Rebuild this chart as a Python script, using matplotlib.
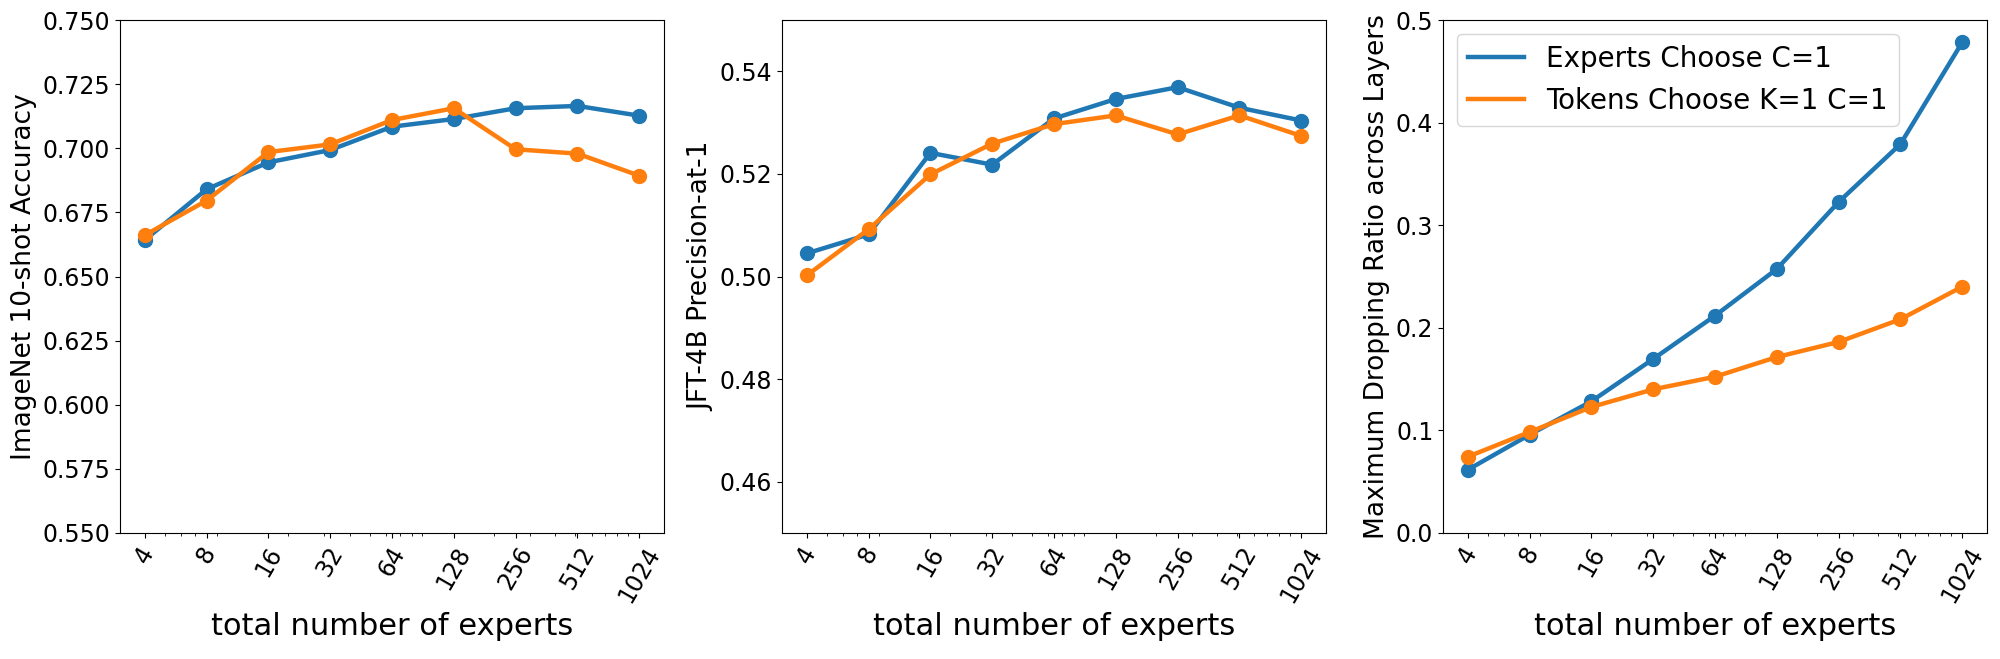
import numpy as np
import matplotlib
matplotlib.use("Agg")
import matplotlib.pyplot as plt

experts = [4, 8, 16, 32, 64, 128, 256, 512, 1024]
expert_labels = [str(e) for e in experts]

# ImageNet 10-shot accuracy
imagenet_ec = [0.6642, 0.6840, 0.6945, 0.6993, 0.7084, 0.7114, 0.7156, 0.7165, 0.7127]
imagenet_tc = [0.6661, 0.6796, 0.6985, 0.7015, 0.7110, 0.7156, 0.6996, 0.6979, 0.6893]

# JFT-4B precision-at-1
jft_ec = [0.5045, 0.5082, 0.5241, 0.5218, 0.5308, 0.5346, 0.5369, 0.5329, 0.5304]
jft_tc = [0.5002, 0.5092, 0.5199, 0.5259, 0.5297, 0.5314, 0.5277, 0.5314, 0.5274]

# maximum dropping ratio across layers
drop_ec = [0.0616, 0.0958, 0.1283, 0.1696, 0.2118, 0.2573, 0.3226, 0.3791, 0.4783]
drop_tc = [0.0743, 0.0984, 0.1228, 0.1400, 0.1523, 0.1715, 0.1862, 0.2083, 0.2401]

series_names = ["Experts Choose C=1", "Tokens Choose K=1 C=1"]
colors = ["#1f77b4", "#ff7f0e"]

panels = [
    (imagenet_ec, imagenet_tc, "ImageNet 10-shot Accuracy", (0.55, 0.75),
     np.arange(0.55, 0.7501, 0.025), "%.3f"),
    (jft_ec, jft_tc, "JFT-4B Precision-at-1", (0.45, 0.55),
     np.arange(0.46, 0.5401, 0.02), "%.2f"),
    (drop_ec, drop_tc, "Maximum Dropping Ratio across Layers", (0.0, 0.5),
     np.arange(0.0, 0.5001, 0.1), "%.1f"),
]

fig = plt.figure(figsize=(20, 6.59), dpi=100)
lefts = [120, 782, 1443]

for i, (ec, tc, ylab, ylim, yt, fmt) in enumerate(panels):
    ax = fig.add_axes([lefts[i] / 2000, (659 - 533) / 659, 544 / 2000, 513 / 659])
    for vals, name, c in zip([ec, tc], series_names, colors):
        ax.plot(experts, vals, '-', color=c, lw=3.2, label=name)
        ax.plot(experts, vals, 'o', color=c, ms=10)
    ax.set_xscale('log')
    ax.set_xticks(experts)
    ax.set_xticklabels(expert_labels, rotation=60)
    ax.set_ylim(*ylim)
    ax.set_yticks(yt)
    ax.set_yticklabels([fmt % v for v in yt])
    ax.tick_params(labelsize=17)
    ax.set_ylabel(ylab, fontsize=19)
    ax.set_xlabel("total number of experts", fontsize=22)
    if i == 2:
        ax.legend(loc="upper left", fontsize=20)

fig.savefig("out.png", dpi=100)
